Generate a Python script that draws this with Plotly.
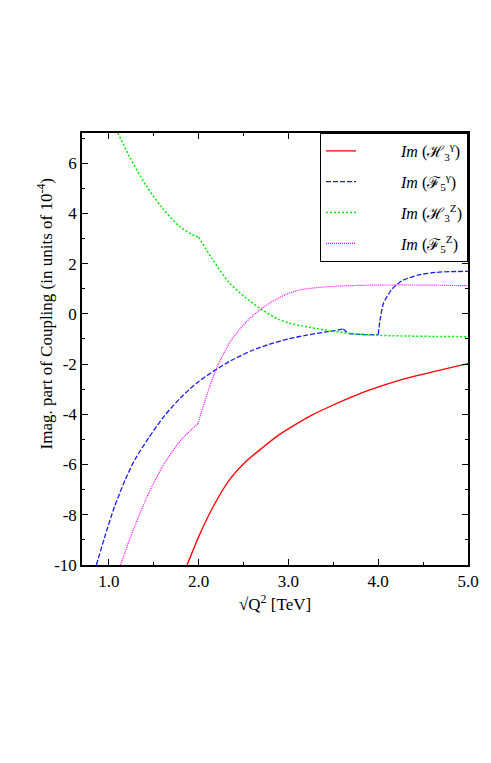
import plotly.graph_objects as go

# sqrt(Q^2) in TeV, imaginary part of couplings in units of 1e-4
x_h3_gamma = [1.87, 2.01, 2.15, 2.34, 2.52, 2.71, 2.89, 3.08, 3.26, 3.45, 3.7, 3.89, 4.26, 4.64, 5.0]
im_h3_gamma = [-10, -8.79, -7.75, -6.62, -5.90, -5.33, -4.83, -4.40, -4.03, -3.71, -3.32, -3.05, -2.62, -2.28, -1.98]

x_f5_gamma = [0.86, 0.95, 1.06, 1.18, 1.29, 1.44, 1.62, 1.81, 1.99, 2.18, 2.36, 2.6, 2.78, 3.0, 3.2, 3.4, 3.52, 3.61,
              3.64, 3.68, 3.8, 3.9, 4.0,
              4.02, 4.06, 4.15, 4.26, 4.45, 4.64, 4.8, 5.0]
im_f5_gamma = [-10, -8.92, -7.70, -6.62, -5.80, -4.95, -4.05, -3.30, -2.72, -2.25, -1.86, -1.45, -1.22, -1.0, -0.85, -0.73, -0.67, -0.60,
               -0.7, -0.79, -0.82, -0.83, -0.83,
               -0.25, 0.43, 0.97, 1.31, 1.55, 1.65, 1.68, 1.69]
kinks_f5_gamma = [17, 22]

x_h3_z = [1.10, 1.23, 1.41, 1.59, 1.78, 1.93, 2.0,
          2.15, 2.34, 2.52, 2.71, 2.89, 3.0, 3.15, 3.52, 3.89, 4.26, 4.64, 5.0]
im_h3_z = [7.2, 6.25, 5.13, 4.23, 3.50, 3.15, 3.05,
           2.19, 1.24, 0.65, 0.15, -0.22, -0.36, -0.48, -0.71, -0.84, -0.88, -0.90, -0.91]
kinks_h3_z = [6]

x_f5_z = [1.13, 1.25, 1.44, 1.62, 1.81, 1.99,
          2.06, 2.12, 2.21, 2.36, 2.55, 2.73, 2.97, 3.15, 3.52, 3.89, 4.26, 4.64, 5.0]
im_f5_z = [-10, -8.79, -7.16, -5.94, -4.99, -4.38,
           -3.58, -2.92, -2.08, -1.06, -0.25, 0.29, 0.77, 0.97, 1.10, 1.14, 1.15, 1.14, 1.12]
kinks_f5_z = [5]

y_tickvals = [-10, -8, -6, -4, -2, 0, 2, 4, 6]
y_ticktext = ["-10", "-8", "-6", "-4", "-2", "0", "2", "4", "6"]

SERIF = "Liberation Serif, Times New Roman, serif"
PAD = "\u2003\u2003\u2002"

fig = go.Figure()


def add_series(x, y, kinks, name, line):
    # split at the kinks so the spline keeps them sharp
    bounds = [0] + kinks + [len(x) - 1]
    for i in range(len(bounds) - 1):
        a, b = bounds[i], bounds[i + 1]
        fig.add_trace(go.Scatter(
            x=x[a:b + 1], y=y[a:b + 1], mode="lines",
            name=name, legendgroup=name, showlegend=(i == 0),
            line=dict(shape="spline", smoothing=0.7, **line),
        ))


add_series(x_h3_gamma, im_h3_gamma, [], PAD + "<i>Im</i> (ℋ<sub>3</sub><sup>γ</sup>)",
           dict(color="#ff0000", width=1.3))
add_series(x_f5_gamma, im_f5_gamma, kinks_f5_gamma, PAD + "<i>Im</i> (ℱ<sub>5</sub><sup>γ</sup>)",
           dict(color="#1a1aff", width=1.3, dash="5px,2px"))
add_series(x_h3_z, im_h3_z, kinks_h3_z, PAD + "<i>Im</i> (ℋ<sub>3</sub><sup>Z</sup>)",
           dict(color="#00ee00", width=1.5, dash="2px,2px"))
add_series(x_f5_z, im_f5_z, kinks_f5_z, PAD + "<i>Im</i> (ℱ<sub>5</sub><sup>Z</sup>)",
           dict(color="#ff00ff", width=1.2, dash="1px,1px"))

axis_common = dict(
    showline=True, linecolor="black", linewidth=1.5, mirror="ticks",
    ticks="inside", ticklen=6, tickcolor="black", tickwidth=1,
    showgrid=False, zeroline=False,
    tickfont=dict(family=SERIF, size=17, color="black"),
)

fig.update_xaxes(
    range=[0.7, 5.0], tick0=1, dtick=1, tickformat=".1f",
    minor=dict(ticks="inside", dtick=0.5, ticklen=3, tickcolor="black"),
    **axis_common,
)
fig.update_yaxes(
    range=[-10, 7.2], tickvals=y_tickvals, ticktext=y_ticktext,
    minor=dict(ticks="inside", dtick=1, ticklen=3, tickcolor="black"),
    **axis_common,
)

fig.add_annotation(
    text="√Q<sup>2</sup> [TeV]", xref="paper", yref="paper",
    x=0.5, y=-0.087, yanchor="middle", showarrow=False,
    font=dict(family=SERIF, size=17, color="black"),
)
fig.add_annotation(
    text="Imag. part of Coupling (in units of 10<sup>-4</sup>)", xref="paper", yref="paper",
    x=-0.095, y=0.583, textangle=-90, showarrow=False, xanchor="center", yanchor="middle",
    font=dict(family=SERIF, size=17, color="black"),
)

# the page body adds an 8px offset, so the figure is 8px smaller
fig.update_layout(
    width=483, height=755,
    margin=dict(l=74, r=20, t=125, b=198),
    plot_bgcolor="white", paper_bgcolor="white",
    legend=dict(
        x=1, y=1, xanchor="right", yanchor="top",
        bordercolor="black", borderwidth=1, bgcolor="white",
        font=dict(family=SERIF, size=16, color="black"),
        tracegroupgap=7,
    ),
)

fig.write_html("out.html")
